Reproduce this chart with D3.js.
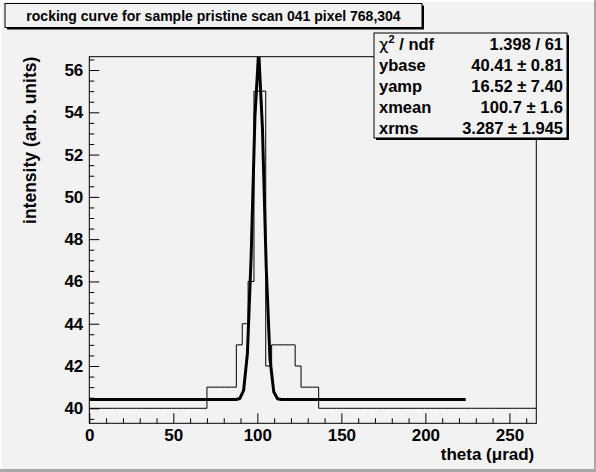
<!DOCTYPE html>
<html>
<head>
<meta charset="utf-8">
<script src="https://cdn.jsdelivr.net/npm/d3@7"></script>
<style>
  body { margin: 0; background: #f2f2f2; }
  svg { display: block; }
  text { font-family: "Liberation Sans", Arial, sans-serif; font-weight: bold; fill: #000; }
</style>
</head>
<body>
<svg id="chart" width="596" height="472"></svg>
<script>
// histogram: 76 bins of 3.5 urad from 0 to 266
const binWidth = 3.5;
const binContents = [
  40, 40, 40, 40, 40, 40, 40, 40, 40, 40,
  40, 40, 40, 40, 40, 40, 40, 40, 40, 40,
  41, 41, 41, 41, 41, 43, 44, 46, 55, 55,
  42, 43, 43, 43, 43, 42, 41, 41, 41, 40,
  40, 40, 40, 40, 40, 40, 40, 40, 40, 40,
  40, 40, 40, 40, 40, 40, 40, 40, 40, 40,
  40, 40, 40, 40, 40, 40, 40, 40, 40, 40,
  40, 40, 40, 40, 40, 40
];

// gaussian fit (values from the stats box)
const fitRange = [0, 224];
const fitNpx = 100;
const ybase = 40.41;
const yamp = 16.52;
const xmean = 100.7;
const xrms = 3.287;

const statNames = ["χ2 / ndf", "ybase", "yamp", "xmean", "xrms"];
const statValues = ["1.398 / 61", "40.41 ± 0.81", "16.52 ± 7.40", "100.7 ± 1.6", "3.287 ± 1.945"];

const xMajorTicks = [0, 50, 100, 150, 200, 250];
const yMajorTicks = [40, 42, 44, 46, 48, 50, 52, 54, 56];

const titleText = "rocking curve for sample pristine scan 041 pixel 768,304";
const xTitle = "theta (μrad)";
const yTitle = "intensity (arb. units)";

const W = 596, H = 472;
const frame = { left: 89.3, right: 536.3, top: 56.7, bottom: 423.3 };
const colors = { bg: "#f2f2f2", light: "#ffffff", dark: "#a8a8a8" };

const svg = d3.select("#chart");

// canvas with bevel
svg.append("rect").attr("width", W).attr("height", H).attr("fill", colors.bg);
svg.append("path").attr("d", `M0,0H${W}V2H2V${H}H0Z`).attr("fill", colors.light);
svg.append("path").attr("d", `M${W},0V${H}H0V${H - 3}H${W - 2}V0Z`).attr("fill", colors.dark);

const nBins = binContents.length;
const x = d3.scaleLinear().domain([0, nBins * binWidth]).range([frame.left, frame.right]);
const y = d3.scaleLinear().domain([39.29, 56.63]).range([frame.bottom, frame.top]);

svg.append("clipPath").attr("id", "clip")
  .append("rect")
  .attr("x", frame.left).attr("y", frame.top)
  .attr("width", frame.right - frame.left).attr("height", frame.bottom - frame.top);

// histogram outline
const histPts = [];
binContents.forEach((v, i) => {
  histPts.push([i * binWidth, v]);
  histPts.push([(i + 1) * binWidth, v]);
});
svg.append("path")
  .datum(histPts)
  .attr("clip-path", "url(#clip)")
  .attr("fill", "none")
  .attr("stroke", "#000")
  .attr("stroke-width", 1)
  .attr("d", d3.line().x((d) => x(d[0])).y((d) => y(d[1])));

// fit curve, sampled like TF1 (npx points)
const gaus = (t) => ybase + yamp * Math.exp(-0.5 * Math.pow((t - xmean) / xrms, 2));
const fitPts = d3.range(fitNpx + 1).map((i) => {
  const t = fitRange[0] + (i * (fitRange[1] - fitRange[0])) / fitNpx;
  return [t, gaus(t)];
});
svg.append("path")
  .datum(fitPts)
  .attr("clip-path", "url(#clip)")
  .attr("fill", "none")
  .attr("stroke", "#000")
  .attr("stroke-width", 3)
  .attr("stroke-linejoin", "round")
  .attr("d", d3.line().x((d) => x(d[0])).y((d) => y(d[1])));

// frame
svg.append("rect")
  .attr("x", frame.left).attr("y", frame.top)
  .attr("width", frame.right - frame.left).attr("height", frame.bottom - frame.top)
  .attr("fill", "none").attr("stroke", "#000").attr("stroke-width", 1);

// x axis
const xMinor = d3.range(0, 266, 10).filter((v) => v % 50 !== 0);
const gx = svg.append("g").attr("transform", `translate(0,${frame.bottom})`);
gx.call(d3.axisBottom(x).tickValues(xMajorTicks).tickSize(-10).tickPadding(6).tickFormat(d3.format("d")));
gx.append("g").call(d3.axisBottom(x).tickValues(xMinor).tickSize(-5).tickFormat(""));
gx.selectAll(".domain").remove();
gx.selectAll("line").attr("stroke", "#000");
gx.selectAll("text").attr("font-size", 17).attr("font-family", null).attr("fill", "#000");

// y axis
const yMinor = d3.range(39.5, 56.6, 0.5).filter((v) => v % 2 !== 0);
const gy = svg.append("g").attr("transform", `translate(${frame.left},0)`);
gy.call(d3.axisLeft(y).tickValues(yMajorTicks).tickSize(-10).tickPadding(6).tickFormat(d3.format("d")));
gy.append("g").call(d3.axisLeft(y).tickValues(yMinor).tickSize(-5).tickFormat(""));
gy.selectAll(".domain").remove();
gy.selectAll("line").attr("stroke", "#000");
gy.selectAll("text").attr("font-size", 17).attr("font-family", null).attr("fill", "#000");

// axis titles
svg.append("text")
  .attr("x", frame.right - 2).attr("y", 460)
  .attr("text-anchor", "end").attr("font-size", 17)
  .text(xTitle);
svg.append("text")
  .attr("transform", `translate(36,${frame.top}) rotate(-90)`)
  .attr("text-anchor", "end").attr("font-size", 17.5)
  .text(yTitle);

// box with drop shadow
function box(x0, y0, x1, y1) {
  svg.append("rect").attr("x", x0 + 2).attr("y", y0 + 2)
    .attr("width", x1 - x0).attr("height", y1 - y0).attr("fill", "#000");
  svg.append("rect").attr("x", x0).attr("y", y0)
    .attr("width", x1 - x0).attr("height", y1 - y0)
    .attr("fill", colors.bg).attr("stroke", "#000").attr("stroke-width", 1);
}
box(5, 3.5, 422, 27.5);
svg.append("text")
  .attr("x", 213.5).attr("y", 21)
  .attr("text-anchor", "middle").attr("font-size", 14)
  .text(titleText);

// stats box
const stats = { x0: 374, y0: 33, x1: 567, y1: 138 };
box(stats.x0, stats.y0, stats.x1, stats.y1);
const rowH = (stats.y1 - stats.y0) / statNames.length;
statNames.forEach((name, i) => {
  const ty = stats.y0 + rowH * (i + 0.5) + 6;
  const t = svg.append("text").attr("x", stats.x0 + 5).attr("y", ty).attr("font-size", 16.5);
  if (name.startsWith("χ2")) {
    t.append("tspan").attr("font-family", "DejaVu Sans").attr("font-weight", "normal").text("χ");
    t.append("tspan").attr("font-size", 11).attr("dy", -7).text("2");
    t.append("tspan").attr("dy", 7).text(" / ndf");
  } else {
    t.text(name);
  }
  svg.append("text")
    .attr("x", stats.x1 - 4).attr("y", ty)
    .attr("text-anchor", "end").attr("font-size", 16.5)
    .text(statValues[i]);
});
</script>
</body>
</html>
